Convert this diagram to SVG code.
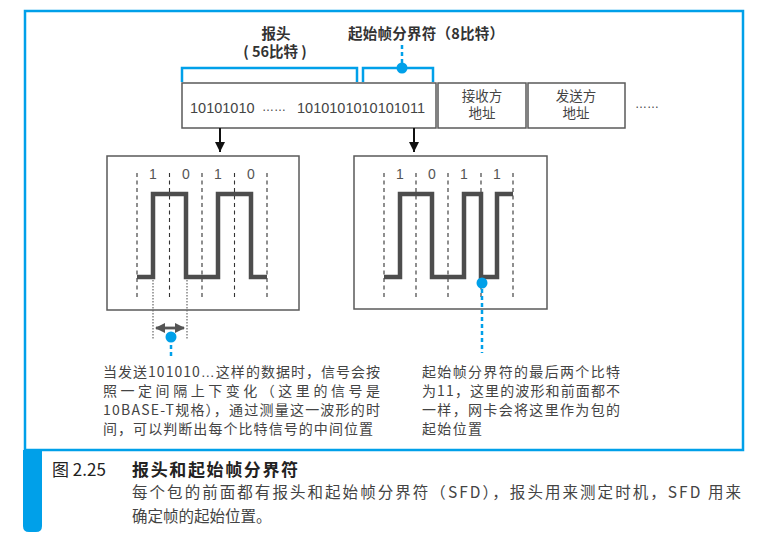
<svg xmlns="http://www.w3.org/2000/svg" width="782" height="542" viewBox="0 0 782 542">
<style>
text{font-family:"Noto Sans CJK SC","Liberation Sans",sans-serif;fill:#3a3a3a}
.lbl{font-size:14.5px;font-weight:bold;fill:#333}
.box{fill:#fff;stroke:#5a5a5a;stroke-width:1.5}
.bits{font-family:"Liberation Sans","Noto Sans CJK SC",sans-serif;font-size:14.5px;fill:#444}
.body{font-size:14px;fill:#444}
.fld{font-size:13.5px;fill:#444}
.lat{font-family:"Liberation Sans",sans-serif}
.dig{font-family:"Liberation Sans",sans-serif;font-size:14px;fill:#555}
.blue{stroke:#00a0e9;stroke-width:2.5;fill:none}
.bdash{stroke:#00a0e9;stroke-width:2.5;fill:none;stroke-dasharray:4 3}
.grid{stroke:#333;stroke-width:1.1;stroke-dasharray:4 3.5;fill:none}
.wave{stroke:#4d4d4d;stroke-width:4.5;fill:none;stroke-linejoin:miter}
.dot{fill:#00a0e9}
.arr{stroke:#111;stroke-width:2;fill:none}
.cap{font-size:15.5px;fill:#444}
</style>
<defs>
<marker id="ah" viewBox="0 0 10 10" refX="10" refY="5" markerWidth="5" markerHeight="5" orient="auto" markerUnits="strokeWidth"><path d="M0,0L10,5L0,10z" fill="#111"/></marker>
<marker id="gh" viewBox="0 0 10 10" refX="9" refY="5" markerWidth="3.6" markerHeight="3.6" orient="auto-start-reverse" markerUnits="strokeWidth"><path d="M0,0L10,5L0,10z" fill="#555"/></marker>
</defs>

<rect id="frame" x="25" y="11" width="718" height="439" fill="none" stroke="#00a0e9" stroke-width="2.5"/>
<path id="capbar" d="M23,450H42V526Q42,532 36,532H29Q23,532 23,526Z" fill="#00a0e9"/>

<g id="label-preamble">
<text class="lbl" x="276" y="39" text-anchor="middle">报头</text>
<text class="lbl" x="275" y="57" text-anchor="middle">( 56比特 )</text>
</g>
<g id="label-sfd">
<text class="lbl" x="426" y="39" text-anchor="middle" textLength="156">起始帧分界符（8比特）</text>
</g>

<g id="frame-fields">
<g id="field-bits"><rect class="box" x="182" y="83" width="254" height="45"/>
<text class="bits" x="190" y="113">10101010</text>
<text class="bits" x="262" y="111" style="font-size:12px">……</text>
<text class="bits" x="297" y="113">1010101010101011</text></g>
<g id="field-dst"><rect class="box" x="438" y="83" width="88" height="45"/>
<text class="fld" x="482" y="101" text-anchor="middle">接收方</text>
<text class="fld" x="482" y="118" text-anchor="middle">地址</text></g>
<g id="field-src"><rect class="box" x="528" y="83" width="97" height="45"/>
<text class="fld" x="576" y="101" text-anchor="middle">发送方</text>
<text class="fld" x="576" y="118" text-anchor="middle">地址</text></g>
<text class="bits" x="635" y="108" style="font-size:12px">……</text>
</g>

<g id="panel1">
<rect class="box" x="107" y="156" width="192" height="154"/>
<path class="grid" d="M137,173V298M169.5,173V298M202,173V298M234.5,173V298M267,173V298"/>
<text class="dig" x="153" y="179" text-anchor="middle">1</text>
<text class="dig" x="186" y="179" text-anchor="middle">0</text>
<text class="dig" x="218" y="179" text-anchor="middle">1</text>
<text class="dig" x="251" y="179" text-anchor="middle">0</text>
<path class="wave" d="M137,277H153V194H186V277H218V194H251V277H267"/>
</g>

<g id="panel2">
<rect class="box" x="354" y="156" width="193" height="153"/>
<path class="grid" d="M384,173V298M416,173V298M448,173V298M481,173V298M513,173V298"/>
<text class="dig" x="400" y="179" text-anchor="middle">1</text>
<text class="dig" x="432" y="179" text-anchor="middle">0</text>
<text class="dig" x="464" y="179" text-anchor="middle">1</text>
<text class="dig" x="497" y="179" text-anchor="middle">1</text>
<path class="wave" d="M384,277H400V194H432V277H464V194H481V277H497V194H513"/>
</g>

<g id="connectors">
<path class="blue" d="M182,82V68H357V82"/>
<path class="blue" d="M363,82V68H433V82"/>
<path class="bdash" d="M402,45V63"/>
<circle class="dot" cx="402" cy="68" r="5.5"/>
<path class="arr" d="M220,128V152" marker-end="url(#ah)"/>
<path class="arr" d="M414,128V152" marker-end="url(#ah)"/>
<path d="M153,280V340M187,280V340" stroke="#666" stroke-width="1.2" stroke-dasharray="1.5 1.5" fill="none"/>
<path d="M156,328H184" stroke="#555" stroke-width="2.8" fill="none" marker-start="url(#gh)" marker-end="url(#gh)"/>
<circle class="dot" cx="171" cy="337" r="5.5"/>
<path class="bdash" d="M171,345V358"/>
<circle class="dot" cx="482" cy="283" r="5.5"/>
<path class="bdash" d="M482,289V353"/>
</g>

<g id="note1">
<text class="body" x="103" y="377" textLength="277">当发送101010<tspan class="lat">…</tspan>这样的数据时，信号会按</text>
<text class="body" x="103" y="396" textLength="277">照一定间隔上下变化（这里的信号是</text>
<text class="body" x="103" y="415" textLength="277">10BASE-T规格），通过测量这一波形的时</text>
<text class="body" x="103" y="434" textLength="270">间，可以判断出每个比特信号的中间位置</text>
</g>
<g id="note2">
<text class="body" x="422" y="377" textLength="198">起始帧分界符的最后两个比特</text>
<text class="body" x="422" y="396" textLength="198">为11，这里的波形和前面都不</text>
<text class="body" x="422" y="415" textLength="198">一样，网卡会将这里作为包的</text>
<text class="body" x="422" y="434" textLength="60">起始位置</text>
</g>

<g id="caption">
<text x="52" y="476" style="font-size:17px;fill:#222">图 2.25</text>
<text x="132" y="476" style="font-size:17px;font-weight:bold;fill:#222" textLength="166">报头和起始帧分界符</text>
<text class="cap" x="132" y="498" textLength="609">每个包的前面都有报头和起始帧分界符（SFD），报头用来测定时机，SFD 用来</text>
<text class="cap" x="132" y="522">确定帧的起始位置。</text>
</g>
</svg>
